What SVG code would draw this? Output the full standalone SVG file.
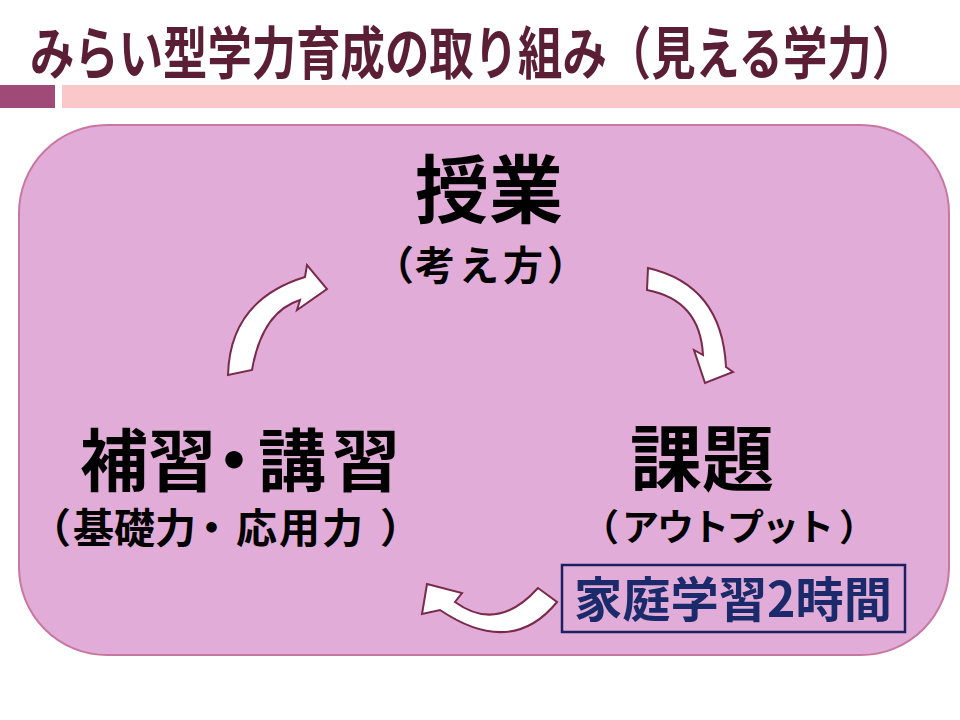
<svg xmlns="http://www.w3.org/2000/svg" width="960" height="720" viewBox="0 0 960 720">
  <style>
    text { font-family: "Noto Sans CJK JP", "Noto Sans CJK SC", sans-serif; font-weight: bold; }
    .title { fill: #5b1f35; font-size: 57px; }
    .main { fill: #000000; }
    .arrow { fill: #ffffff; stroke: #7a2a4a; stroke-width: 2; stroke-linejoin: miter; }
  </style>
  <rect x="0" y="0" width="960" height="720" fill="#ffffff"/>
  <g id="header">
    <text class="title" x="30" y="74" textLength="886" lengthAdjust="spacingAndGlyphs">みらい型学力育成の取り組み（見える学力）</text>
    <rect x="0" y="85" width="55" height="23" fill="#a04a78"/>
    <rect x="62" y="85" width="898" height="23" fill="#fac8c8"/>
  </g>
  <g id="panel">
    <rect x="19" y="125" width="930" height="530" rx="88" ry="88" fill="#e1acd7" stroke="#c8789f" stroke-width="2"/>
  </g>
  <g id="connectors">
    <path class="arrow" d="M228,375 Q230,300 305,277 L307,265 L327,289 L297,310 L300,300 Q262,312 252,370 Z"/>
    <path class="arrow" d="M648,268 Q722,285 726,367 L733,372 L705,383 L694,350 L703,355 Q700,300 647,290 Z"/>
    <path class="arrow" d="M427,584 L462,593 L455,602 Q497.5,633 538,588 L557,602 Q511.5,658 440,610 L422,614 Z"/>
  </g>
  <g id="node-jugyo">
    <text class="main" x="489" y="217" font-size="74" text-anchor="middle">授業</text>
    <text class="main" x="374 415 459 503 547" y="280" font-size="40">（考え方）</text>
  </g>
  <g id="node-hoshu">
    <text class="main" x="80 148 200 258 332" y="486" font-size="68">補習・講習</text>
    <text class="main" x="30 73 114 155 191 236 279 322 380" y="543" font-size="41">（基礎力・応用力）</text>
  </g>
  <g id="node-kadai">
    <text class="main" x="582 622 657 692 727 762 797 839" y="541" font-size="37">（アウトプット）</text>
    <text class="main" x="702" y="485" font-size="72" text-anchor="middle">課題</text>
  </g>
  <g id="node-katei">
    <rect x="562" y="565" width="343" height="67" fill="none" stroke="#1b2060" stroke-width="2.5"/>
    <text x="733" y="617" font-size="48" fill="#1b2a6a" text-anchor="middle" textLength="318" lengthAdjust="spacingAndGlyphs">家庭学習2時間</text>
  </g>
</svg>
